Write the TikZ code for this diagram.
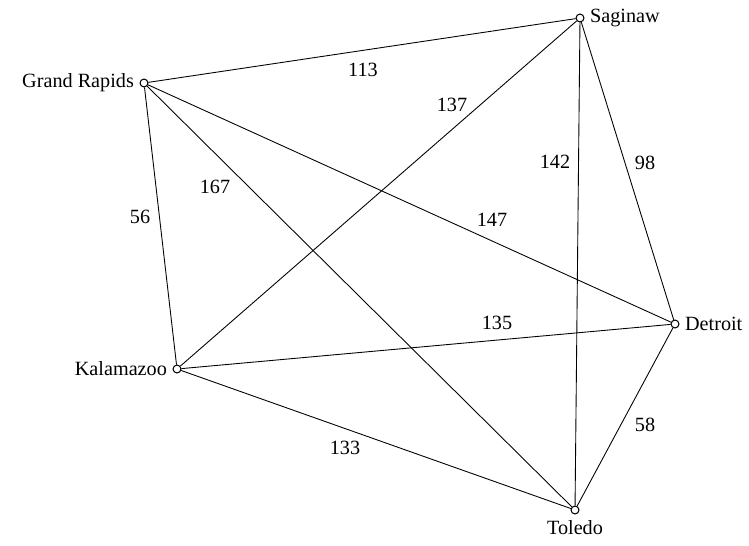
\documentclass[tikz,border=0pt]{standalone}
\usepackage{fontspec}
\setmainfont{Liberation Serif}

\begin{document}
\begin{tikzpicture}
[
	x=0.02cm, y=-0.02cm,
	city/.style={circle,draw,fill=white,inner sep=0pt,minimum size=4.5pt,line width=0.6pt},
	road/.style={line width=0.5pt},
	weight/.style={inner sep=1pt,font=\fontsize{11.5}{13}\selectfont},
	every label/.style={font=\fontsize{11.5}{13}\selectfont,inner sep=3pt}
]

	\useasboundingbox (0,0) rectangle (749,545);

	% cities
	\node[city,label=left:Grand Rapids] (gr)  at (144,83)  {};
	\node[city,label=right:Saginaw]     (sag) at (580,18)  {};
	\node[city,label=left:Kalamazoo]    (kal) at (177,369) {};
	\node[city,label=right:Detroit]     (det) at (675,324) {};
	\node[city,label=below:Toledo]      (tol) at (575,510) {};

	% roads
	\begin{scope}[on background layer/.try]
	\foreach \a/\b in {gr/sag,gr/kal,gr/det,gr/tol,sag/kal,sag/tol,sag/det,kal/det,kal/tol,det/tol} {
		\draw[road] (\a) -- (\b);
	}
	\end{scope}

	% distances
	\foreach \x/\y/\w in {363/70/113, 452/105/137, 555/162/142, 645/163/98, 140/217/56,
	                      215/187/167, 492/220/147, 497/323/135, 345/448/133, 645/425/58} {
		\node[weight] (w\w) at (\x,\y) {\w};
	}

\end{tikzpicture}
\end{document}
